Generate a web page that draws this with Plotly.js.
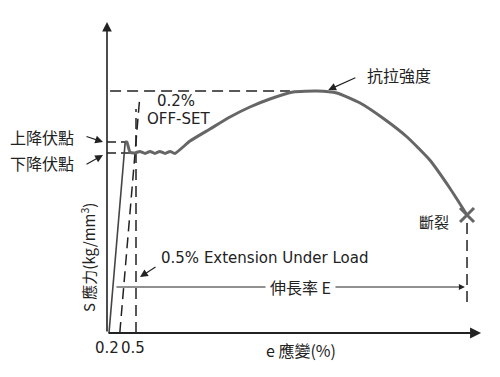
<!DOCTYPE html>
<html><head><meta charset="utf-8">
<script src="https://cdn.plot.ly/plotly-3.0.1.min.js"></script>
<style>html,body{margin:0;padding:0;background:#fff}</style>
</head><body>
<div id="chart" style="width:500px;height:377px"></div>
<script>
// Strain (%) and stress (kg/mm^2) — schematic stress–strain curve
const elasticStrain = [0, 0.3];
const elasticStress = [0, 47.75];
const plasticStrain = [0.3, 0.33, 0.39, 0.48, 0.57, 0.67, 0.76, 0.85, 0.94, 1.04, 1.13, 1.22, 1.5, 1.87, 2.24, 2.61, 2.98, 3.41, 3.85, 4.22, 4.65, 5.07, 5.52, 5.94, 6.31, 6.63];
const plasticStress = [47.75, 47.75, 45.2, 45.0, 45.4, 44.9, 45.4, 44.9, 45.4, 44.9, 45.4, 44.9, 48, 51, 54, 56.5, 58.5, 60.25, 60.5, 60.0, 57.5, 53.75, 49, 43.25, 36.25, 29.5];
const upperYield = 47.75;
const lowerYield = 45.0;
const tensileStrength = 60.5;
const tickVals = [0.2, 0.5];
const tickLabels = ['0.2', '0.5'];
const offsetLine = {x: [0.2, 0.57], y: [0, 59]};
const extensionLine = {x: [0.5, 0.5], y: [0, 56]};
const breakStrain = plasticStrain[plasticStrain.length - 1];
const breakStress = plasticStress[plasticStress.length - 1];
const elongationY = 11.5;

const dark = '#222';
const gray = '#666';
const cjk = '"Noto Sans CJK TC", "Noto Sans CJK SC", sans-serif';
const latin = '"DejaVu Sans", sans-serif';
const dashStyle = '11px,6px';

const traces = [
  {x: [-0.037, 0.33], y: [upperYield, upperYield], mode: 'lines', line: {color: dark, width: 1.5, dash: '9px,5px'}},
  {x: [-0.037, 0.39], y: [lowerYield, lowerYield], mode: 'lines', line: {color: dark, width: 1.5, dash: '9px,5px'}},
  {x: [0.02, 3.35], y: [tensileStrength, tensileStrength], mode: 'lines', line: {color: dark, width: 1.5, dash: dashStyle}},
  {x: offsetLine.x, y: offsetLine.y, mode: 'lines', line: {color: dark, width: 1.5, dash: dashStyle}},
  {x: extensionLine.x, y: extensionLine.y, mode: 'lines', line: {color: dark, width: 1.5, dash: dashStyle}},
  {x: [breakStrain, breakStrain], y: [breakStress - 2, 6.25], mode: 'lines', line: {color: dark, width: 1.5, dash: dashStyle}},
  {x: elasticStrain, y: elasticStress, mode: 'lines', line: {color: '#444', width: 1.6}},
  {x: plasticStrain, y: plasticStress, mode: 'lines', line: {color: gray, width: 3, shape: 'spline', smoothing: 0.5}},
  {x: [breakStrain], y: [breakStress], mode: 'markers', marker: {symbol: 'x-thin', size: 14, line: {color: gray, width: 3}}}
];

function arrow(tx, ty, fx, fy, w, size) {
  return {x: tx, y: ty, ax: fx, ay: fy, xref: 'x', yref: 'y', axref: 'x', ayref: 'y',
    text: '', showarrow: true, arrowhead: 2, arrowsize: size || 1.3, arrowwidth: w || 1.2, arrowcolor: dark};
}
function label(x, y, text, size, family, extra) {
  return Object.assign({x: x, y: y, xref: 'x', yref: 'y', text: text, showarrow: false,
    font: {family: family, size: size, color: dark}}, extra || {});
}

const annotations = [
  arrow(-0.037, 77.75, -0.037, 0, 1.6, 1.2),
  arrow(6.89, 0, -0.037, 0, 2, 1.1),
  arrow(-0.111, 47.75, -0.444, 49.25),
  arrow(-0.111, 44.5, -0.444, 42),
  arrow(4.06, 60.75, 4.59, 64),
  arrow(0.574, 14, 0.889, 16.75),
  arrow(6.59, elongationY, 0.11, elongationY, 1, 1.2),
  label(3.54, elongationY, '伸長率 E', 16, cjk, {bgcolor: '#fff', borderpad: 4}),
  label(-1.24, 48.9, '上降伏點', 16, cjk),
  label(-1.24, 42.5, '下降伏點', 16, cjk),
  label(5.37, 64.5, '抗拉強度', 16, cjk),
  label(6.02, 28, '斷裂', 15, cjk),
  label(1.24, 58, '0.2%', 15, latin),
  label(1.28, 53.5, 'OFF-SET', 15, latin),
  label(0.93, 18.75, '0.5% Extension Under Load', 15, latin, {xanchor: 'left'}),
  label(3.56, -4.25, 'e 應變(%)', 16, cjk),
  label(-0.39, 19, 'S 應力(kg/mm<sup>3</sup>)', 15, cjk, {textangle: -90})
];
tickVals.forEach((v, i) => {
  annotations.push(label(v, -3.75, tickLabels[i], 15, latin, {xshift: i === 0 ? -13 : -3}));
});

const layout = {
  width: 500, height: 377,
  margin: {l: 0, r: 0, t: 0, b: 0, pad: 0},
  paper_bgcolor: '#fff', plot_bgcolor: '#fff',
  showlegend: false,
  xaxis: {range: [-2.0185, 7.2407], showgrid: false, zeroline: false, showticklabels: false, showline: false, ticks: ''},
  yaxis: {range: [-11, 83.25], showgrid: false, zeroline: false, showticklabels: false, showline: false, ticks: ''},
  annotations: annotations
};
Plotly.newPlot('chart', traces, layout, {displayModeBar: false, staticPlot: true});
</script>
</body></html>
